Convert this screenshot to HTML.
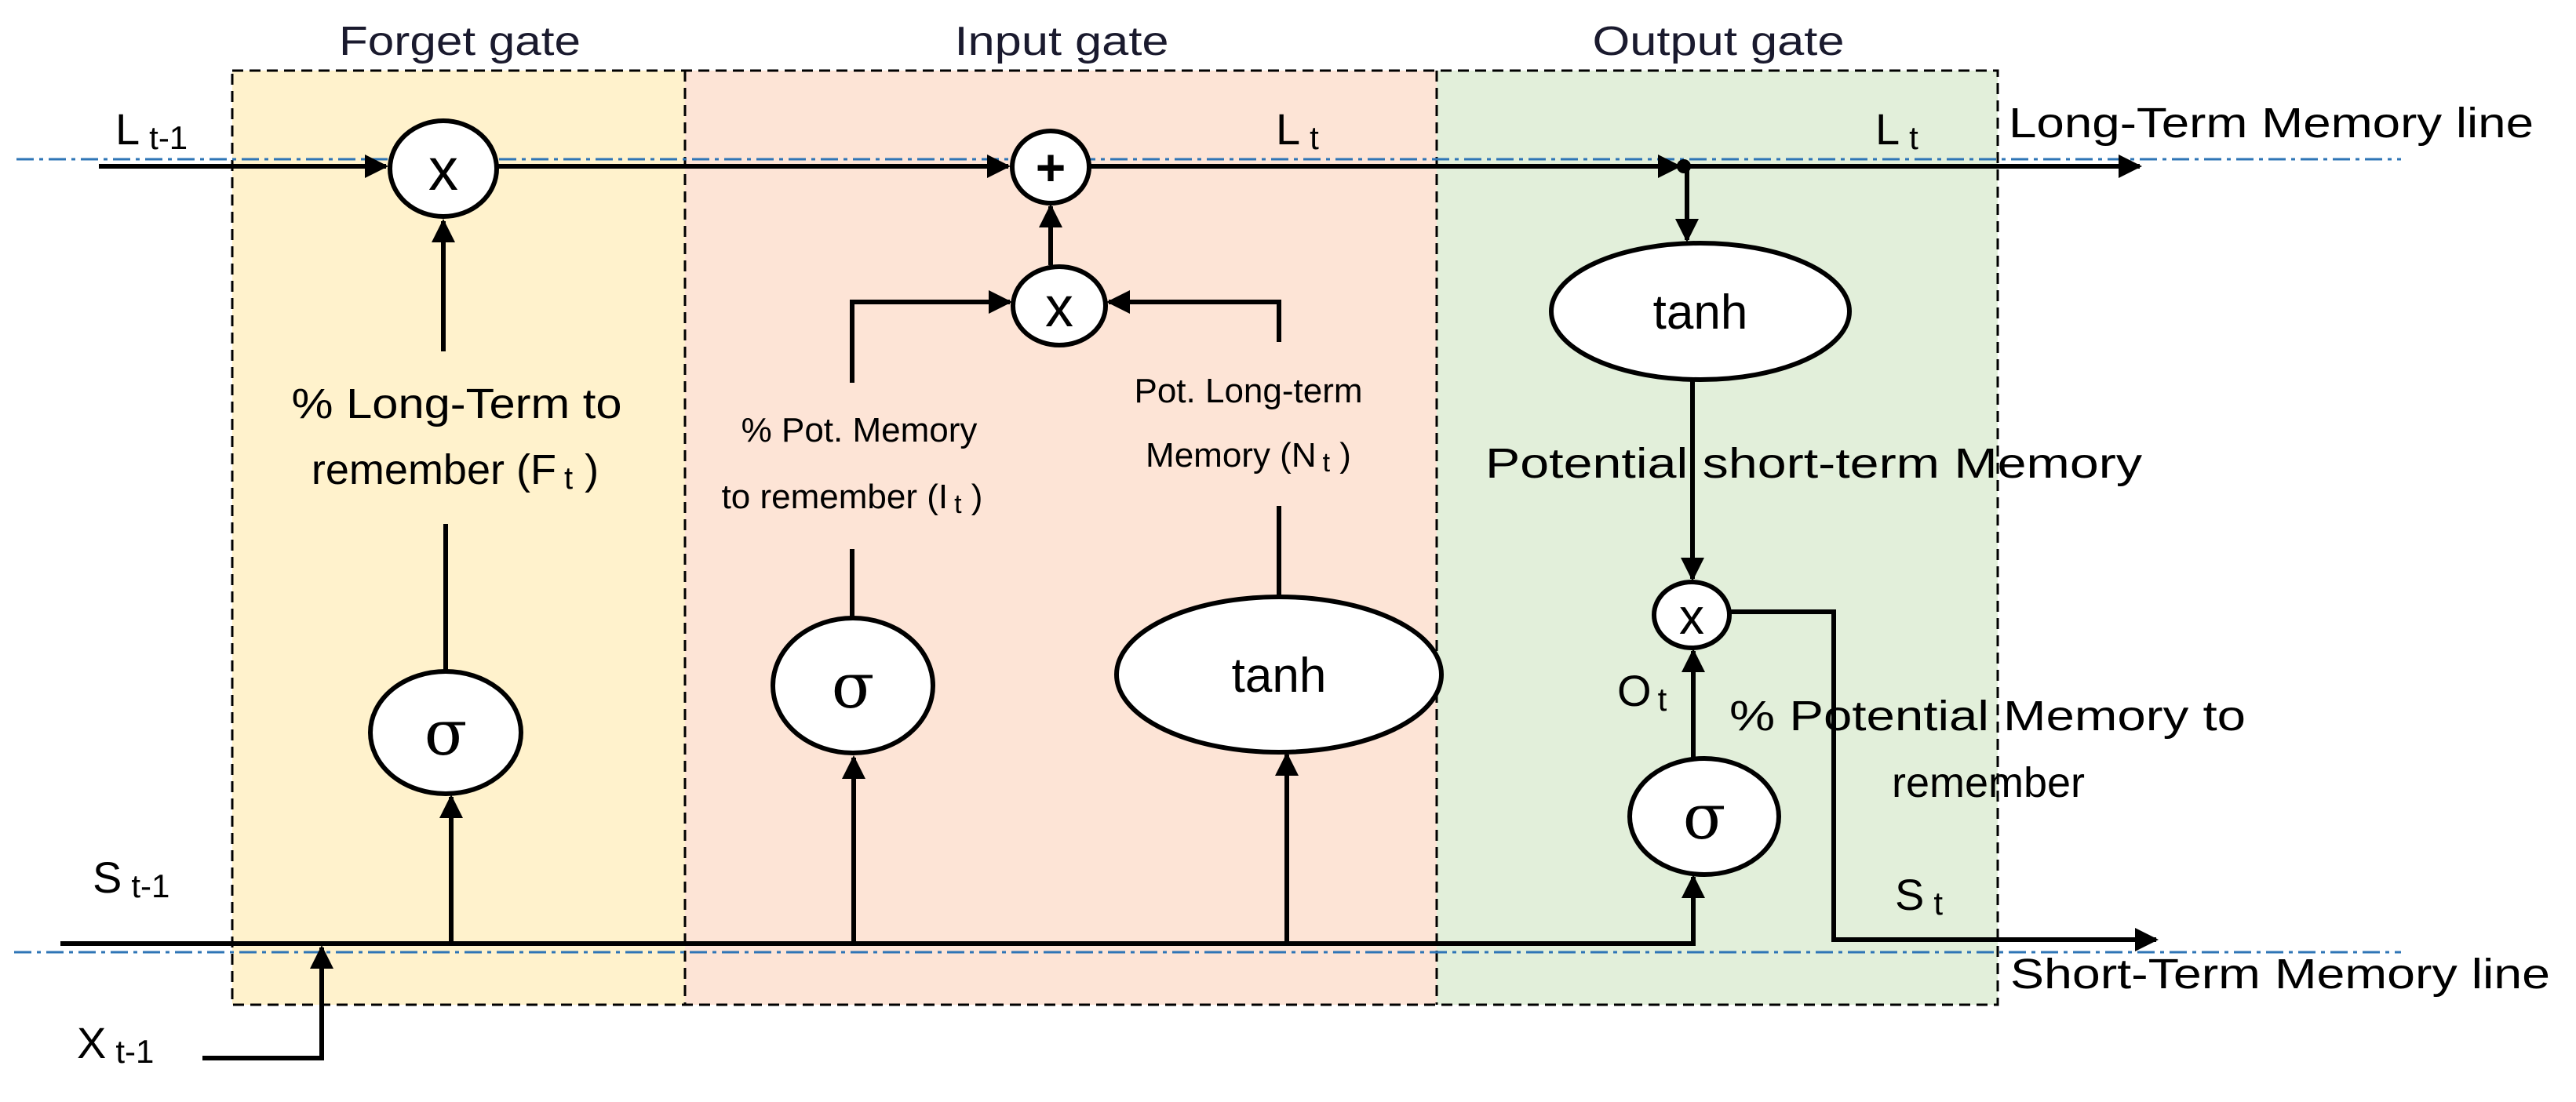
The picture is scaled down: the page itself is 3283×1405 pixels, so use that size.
<!DOCTYPE html>
<html><head><meta charset="utf-8"><style>html,body{margin:0;padding:0;background:#fff}svg{display:block}</style></head>
<body>
<svg width="3283" height="1405" viewBox="0 0 3283 1405" xmlns="http://www.w3.org/2000/svg" font-family="Liberation Sans, sans-serif">
<defs>
<marker id="a" viewBox="0 0 10 10" refX="9" refY="5" markerWidth="5" markerHeight="5" orient="auto" markerUnits="strokeWidth"><path d="M0,0 L10,5 L0,10 z" fill="#000"/></marker>
</defs>
<rect x="296" y="90" width="577" height="1191" fill="#fff2cc"/>
<rect x="873" y="90" width="958" height="1191" fill="#fde4d6"/>
<rect x="1831" y="90" width="715" height="1191" fill="#e2efda"/>
<g fill="none" stroke="#000" stroke-width="3" stroke-dasharray="14 8">
<rect x="296" y="90" width="2250" height="1191"/>
<line x1="873" y1="90" x2="873" y2="1281"/>
<line x1="1831" y1="90" x2="1831" y2="1281"/>
</g>
<g font-size="52" fill="#1a1a2e" text-anchor="middle">
<text x="586" y="70" textLength="308" lengthAdjust="spacingAndGlyphs">Forget gate</text>
<text x="1353" y="70" textLength="273" lengthAdjust="spacingAndGlyphs">Input gate</text>
<text x="2190" y="70" textLength="321" lengthAdjust="spacingAndGlyphs">Output gate</text>
</g>
<g stroke="#2e75b6" stroke-width="3" stroke-dasharray="22 7 5 7" fill="none">
<line x1="21" y1="203" x2="3060" y2="203"/>
<line x1="18" y1="1214" x2="3060" y2="1214"/>
</g>
<g stroke="#000" stroke-width="6" fill="none">
<line x1="126" y1="212" x2="492" y2="212" marker-end="url(#a)"/>
<line x1="635" y1="212" x2="1285" y2="212" marker-end="url(#a)"/>
<line x1="1388" y1="212" x2="2140" y2="212" marker-end="url(#a)"/>
<line x1="2146" y1="212" x2="2727" y2="212" marker-end="url(#a)"/>
<line x1="565" y1="448" x2="565" y2="282" marker-end="url(#a)"/>
<line x1="568" y1="668" x2="568" y2="856"/>
<line x1="575" y1="1203" x2="575" y2="1016" marker-end="url(#a)"/>
<polyline points="77,1203 2158,1203 2158,1118" marker-end="url(#a)"/>
<polyline points="258,1349 410,1349 410,1208" marker-end="url(#a)"/>
<line x1="1339" y1="338" x2="1339" y2="263" marker-end="url(#a)"/>
<polyline points="1086,488 1086,385 1287,385" marker-end="url(#a)"/>
<polyline points="1630,436 1630,385 1413,385" marker-end="url(#a)"/>
<line x1="1630" y1="645" x2="1630" y2="762"/>
<line x1="1086" y1="700" x2="1086" y2="789"/>
<line x1="1088" y1="1203" x2="1088" y2="966" marker-end="url(#a)"/>
<line x1="1640" y1="1203" x2="1640" y2="962" marker-end="url(#a)"/>
<line x1="2150" y1="212" x2="2150" y2="306" marker-end="url(#a)"/>
<line x1="2157" y1="484" x2="2157" y2="738" marker-end="url(#a)"/>
<line x1="2158" y1="967" x2="2158" y2="830" marker-end="url(#a)"/>
<polyline points="2204,780 2337,780 2337,1198 2748,1198" marker-end="url(#a)"/>
</g>
<circle cx="2146" cy="212" r="9" fill="#000"/>
<g fill="#fff" stroke="#000" stroke-width="6">
<ellipse cx="565" cy="215" rx="68" ry="61"/>
<ellipse cx="568" cy="934" rx="96" ry="78"/>
<ellipse cx="1339" cy="213" rx="49" ry="46"/>
<ellipse cx="1350" cy="390" rx="59" ry="50"/>
<ellipse cx="1087" cy="874" rx="102" ry="86"/>
<ellipse cx="1630" cy="860" rx="207" ry="99"/>
<ellipse cx="2167" cy="397" rx="190" ry="87"/>
<ellipse cx="2156" cy="784" rx="48" ry="42"/>
<ellipse cx="2172" cy="1041" rx="95" ry="74"/>
</g>
<g text-anchor="middle" fill="#000">
<text x="565" y="242" font-size="76">x</text>
<text x="568" y="962" font-size="80" font-family="DejaVu Serif, serif">σ</text>
<text x="1339" y="236" font-size="66" font-weight="bold">+</text>
<text x="1350" y="416" font-size="72">x</text>
<text x="1087" y="902" font-size="80" font-family="DejaVu Serif, serif">σ</text>
<text x="1630" y="882" font-size="62">tanh</text>
<text x="2167" y="419" font-size="62">tanh</text>
<text x="2156" y="808" font-size="64">x</text>
<text x="2172" y="1069" font-size="80" font-family="DejaVu Serif, serif">σ</text>
</g>
<g fill="#000" font-size="56">
<text x="147" y="184">L<tspan font-size="42" dx="12" dy="6">t-1</tspan></text>
<text x="118" y="1138">S<tspan font-size="42" dx="12" dy="6">t-1</tspan></text>
<text x="98" y="1349">X<tspan font-size="42" dx="12" dy="6">t-1</tspan></text>
<text x="1626" y="184">L<tspan font-size="42" dx="12" dy="6">t</tspan></text>
<text x="2390" y="184">L<tspan font-size="42" dx="12" dy="6">t</tspan></text>
<text x="2061" y="900">O<tspan font-size="42" dx="8" dy="6">t</tspan></text>
<text x="2415" y="1160">S<tspan font-size="42" dx="12" dy="6">t</tspan></text>
</g>
<g fill="#000" font-size="54">
<text x="582" y="533" text-anchor="middle" textLength="421" lengthAdjust="spacingAndGlyphs">% Long-Term to</text>
<text x="580" y="617" text-anchor="middle">remember (F<tspan font-size="40" dx="10" dy="6">t</tspan><tspan dy="-6"> )</tspan></text>
<text x="2560" y="175" textLength="669" lengthAdjust="spacingAndGlyphs">Long-Term Memory line</text>
<text x="2562" y="1260" textLength="688" lengthAdjust="spacingAndGlyphs">Short-Term Memory line</text>
<text x="1893" y="609" textLength="837" lengthAdjust="spacingAndGlyphs">Potential  short-term Memory</text>
<text x="2204" y="931" textLength="658" lengthAdjust="spacingAndGlyphs">% Potential  Memory to</text>
<text x="2534" y="1016" text-anchor="middle">remember</text>
</g>
<g fill="#000" font-size="44">
<text x="1095" y="563" text-anchor="middle">% Pot. Memory</text>
<text x="1086" y="648" text-anchor="middle">to remember (I<tspan font-size="34" dx="8" dy="6">t</tspan><tspan dy="-6"> )</tspan></text>
<text x="1591" y="513" text-anchor="middle">Pot. Long-term</text>
<text x="1591" y="595" text-anchor="middle">Memory (N<tspan font-size="34" dx="8" dy="6">t</tspan><tspan dy="-6"> )</tspan></text>
</g>
</svg>
</body></html>
